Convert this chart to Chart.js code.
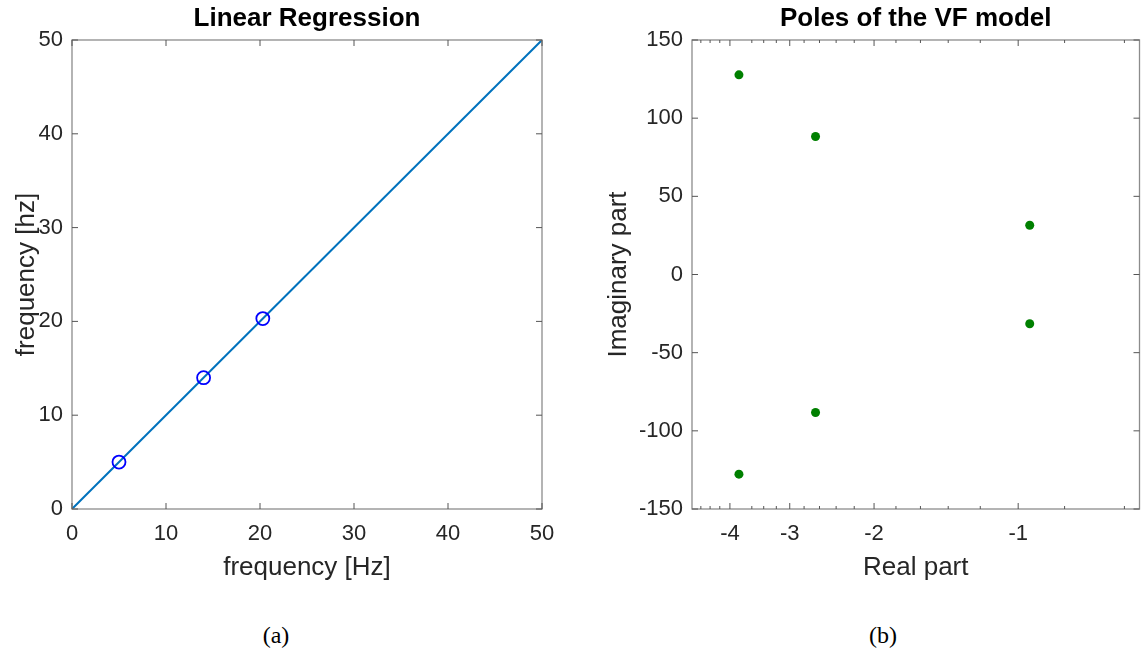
<!DOCTYPE html>
<html>
<head>
<meta charset="utf-8">
<script src="https://cdn.jsdelivr.net/npm/chart.js@4.4.1/dist/chart.umd.min.js"></script>
<style>
  html, body { margin: 0; padding: 0; background: #ffffff; }
  body { width: 1144px; height: 659px; position: relative; overflow: hidden; }
  .wrap { position: absolute; top: 0; width: 572px; height: 600px; }
  .cap { position: absolute; top: 622px; font-family: "Liberation Serif", "DejaVu Serif", serif; font-size: 24px; color: #000; transform: translateX(-50%); }
</style>
</head>
<body>
<div class="wrap" style="left:0"><canvas id="c1" width="572" height="600"></canvas></div>
<div class="wrap" style="left:572px"><canvas id="c2" width="572" height="600"></canvas></div>
<div class="cap" style="left:276px">(a)</div>
<div class="cap" style="left:883px">(b)</div>
<script>
// ---- Data: (a) Linear Regression ----
const fitX = [0, 50];
const fitY = [0, 50];
const measuredFreq = [5, 14, 20.3];
const estimatedFreq = [5, 14, 20.3];
const regTicks = [0, 10, 20, 30, 40, 50];

// ---- Data: (b) Poles of the VF model ----
const poleReal = [-3.83, -3.83, -2.65, -2.65, -0.946, -0.946];
const poleImag = [127.7, -127.7, 88.3, -88.3, 31.5, -31.5];
const realMajorTicks = [-4, -3, -2, -1];
const realMinorTicks = [-4.6, -4.4, -4.2, -3.6, -3.4, -3.2, -2.8, -2.6, -2.4, -2.2, -1.8, -1.6, -1.4, -1.2, -0.8, -0.6];
const imagTicks = [-150, -100, -50, 0, 50, 100, 150];

const FONT = "'Liberation Sans', Arial, Helvetica, sans-serif";
const AXIS_COLOR = '#8c8c8c';
const TEXT_COLOR = '#262626';
const TICK_SIZE = 22;
const LABEL_SIZE = 26;

// plugin: box, inward ticks, title centered over chart area
const boxPlugin = {
  id: 'boxPlugin',
  afterDraw(chart, args, opts) {
    const {ctx, chartArea: a} = chart;
    const xs = chart.scales.x, ys = chart.scales.y;
    ctx.save();
    ctx.strokeStyle = AXIS_COLOR;
    ctx.lineWidth = 1.3;
    ctx.strokeRect(a.left, a.top, a.right - a.left, a.bottom - a.top);
    const tick = (x1, y1, x2, y2) => { ctx.beginPath(); ctx.moveTo(x1, y1); ctx.lineTo(x2, y2); ctx.stroke(); };
    ctx.lineWidth = 1;
    ctx.strokeStyle = '#555';
    const L = opts.major || 6, m = opts.minor || 3;
    (opts.xMajor || []).forEach(v => {
      const px = xs.getPixelForValue(opts.xMap ? opts.xMap(v) : v);
      tick(px, a.bottom, px, a.bottom - L);
      tick(px, a.top, px, a.top + L);
    });
    (opts.xMinor || []).forEach(v => {
      const px = xs.getPixelForValue(opts.xMap ? opts.xMap(v) : v);
      if (px < a.left + 1 || px > a.right - 1) return;
      tick(px, a.bottom, px, a.bottom - m);
      tick(px, a.top, px, a.top + m);
    });
    (opts.yMajor || []).forEach(v => {
      const py = ys.getPixelForValue(v);
      tick(a.left, py, a.left + L, py);
      tick(a.right, py, a.right - L, py);
    });
    // title
    ctx.fillStyle = '#000';
    ctx.font = 'bold 26px ' + FONT;
    ctx.textAlign = 'center';
    ctx.textBaseline = 'middle';
    ctx.fillText(opts.title, (a.left + a.right) / 2, 19);
    ctx.restore();
  }
};

function fixedSize(w, h) {
  return function (scale) {
    if (w !== undefined) scale.width = w;
    if (h !== undefined) scale.height = h;
  };
}

// ---- Chart (a) ----
new Chart(document.getElementById('c1'), {
  type: 'scatter',
  data: {
    datasets: [
      {
        label: 'fit',
        data: fitX.map((x, i) => ({x: x, y: fitY[i]})),
        showLine: true,
        borderColor: '#0072BD',
        borderWidth: 2,
        pointRadius: 0,
        order: 2
      },
      {
        label: 'measured',
        data: measuredFreq.map((x, i) => ({x: x, y: estimatedFreq[i]})),
        showLine: false,
        pointStyle: 'circle',
        pointRadius: 6.5,
        pointBorderWidth: 1.8,
        pointBorderColor: '#0000FF',
        pointBackgroundColor: 'rgba(0,0,0,0)',
        order: 1
      }
    ]
  },
  options: {
    responsive: false,
    animation: false,
    events: [],
    layout: { padding: { left: 0, top: 40, right: 30, bottom: 0 } },
    plugins: {
      legend: { display: false },
      tooltip: { enabled: false },
      boxPlugin: { title: 'Linear Regression', xMajor: regTicks, yMajor: regTicks, major: 6 }
    },
    scales: {
      x: {
        type: 'linear', min: 0, max: 50,
        afterBuildTicks: s => { s.ticks = regTicks.map(v => ({value: v})); },
        afterFit: fixedSize(undefined, 91),
        grid: { display: false, drawTicks: false },
        border: { display: false },
        ticks: { color: TEXT_COLOR, font: { family: FONT, size: TICK_SIZE }, padding: 12, maxRotation: 0 },
        title: { display: true, text: 'frequency [Hz]', color: TEXT_COLOR, font: { family: FONT, size: LABEL_SIZE }, padding: { top: 0, bottom: 17 } }
      },
      y: {
        type: 'linear', min: 0, max: 50,
        afterBuildTicks: s => { s.ticks = regTicks.map(v => ({value: v})); },
        afterFit: fixedSize(72, undefined),
        grid: { display: false, drawTicks: false },
        border: { display: false },
        ticks: { color: TEXT_COLOR, font: { family: FONT, size: TICK_SIZE }, padding: 9 },
        title: { display: true, text: 'frequency [hz]', color: TEXT_COLOR, font: { family: FONT, size: LABEL_SIZE }, padding: { top: 11, bottom: 0 } }
      }
    }
  },
  plugins: [boxPlugin]
});

// ---- Chart (b) ----
// log axis on |Re|, reversed, labelled with negative values
const negMap = v => -v;
new Chart(document.getElementById('c2'), {
  type: 'scatter',
  data: {
    datasets: [
      {
        label: 'poles',
        data: poleReal.map((x, i) => ({x: -x, y: poleImag[i]})),
        showLine: false,
        pointStyle: 'circle',
        pointRadius: 4.5,
        pointBorderWidth: 0,
        pointBackgroundColor: '#008000',
        pointBorderColor: '#008000'
      }
    ]
  },
  options: {
    responsive: false,
    animation: false,
    events: [],
    layout: { padding: { left: 0, top: 40, right: 1, bottom: 0 } },
    plugins: {
      legend: { display: false },
      tooltip: { enabled: false },
      boxPlugin: { title: 'Poles of the VF model', xMajor: realMajorTicks, xMinor: realMinorTicks, xMap: negMap, yMajor: imagTicks, major: 6, minor: 3 }
    },
    scales: {
      x: {
        type: 'logarithmic', min: 0.558, max: 4.8, reverse: true,
        afterBuildTicks: s => { s.ticks = realMajorTicks.map(v => ({value: -v})); },
        afterFit: fixedSize(undefined, 91),
        grid: { display: false, drawTicks: false },
        border: { display: false },
        ticks: { color: TEXT_COLOR, font: { family: FONT, size: TICK_SIZE }, padding: 12, maxRotation: 0, autoSkip: false,
                 callback: v => String(-v) },
        title: { display: true, text: 'Real part', color: TEXT_COLOR, font: { family: FONT, size: LABEL_SIZE }, padding: { top: 0, bottom: 17 } }
      },
      y: {
        type: 'linear', min: -150, max: 150,
        afterBuildTicks: s => { s.ticks = imagTicks.map(v => ({value: v})); },
        afterFit: fixedSize(120, undefined),
        grid: { display: false, drawTicks: false },
        border: { display: false },
        ticks: { color: TEXT_COLOR, font: { family: FONT, size: TICK_SIZE }, padding: 9 },
        title: { display: true, text: 'Imaginary part', color: TEXT_COLOR, font: { family: FONT, size: LABEL_SIZE }, padding: { top: 31, bottom: 0 } }
      }
    }
  },
  plugins: [boxPlugin]
});
</script>
</body>
</html>
